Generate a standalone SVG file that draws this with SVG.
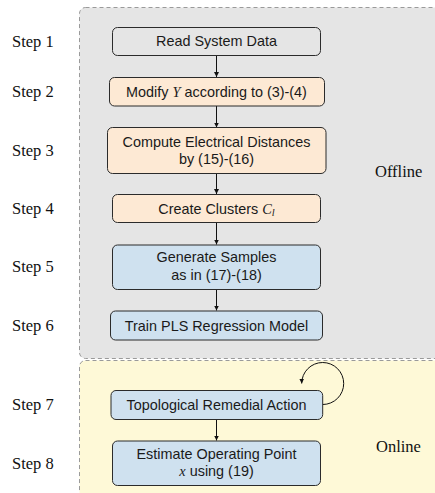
<svg xmlns="http://www.w3.org/2000/svg" width="435" height="493" viewBox="0 0 435 493">
<style>
.panel{stroke:#9a9a9a;stroke-width:1;stroke-dasharray:4 3}
.box{stroke:#2b2b2b;stroke-width:1}
.gray{fill:#e5e5e5}
.orange{fill:#fde9d4}
.blue{fill:#cfe1ef}
.t{font-family:"Liberation Sans",Arial,sans-serif;font-size:14.4px;fill:#1a1a1a;text-anchor:middle}
.m{font-family:"Liberation Serif","Times New Roman",serif;font-style:italic}
.s{font-family:"Liberation Serif","Times New Roman",serif;font-size:16.5px;fill:#111}
.c{stroke:#111;stroke-width:1;fill:none}
</style>
<defs>
<marker id="ah" viewBox="0 0 8 8" refX="8" refY="4" markerWidth="5" markerHeight="5" orient="auto" markerUnits="userSpaceOnUse">
<path d="M0,0 L8,4 L0,8 Z" fill="#111"/>
</marker>
</defs>
<rect width="435" height="493" fill="#ffffff"/>
<g id="offline-panel">
<rect class="panel" x="79.5" y="7.5" width="370" height="351" rx="6" fill="#e5e5e5"/>
<text class="s" x="375" y="176.5">Offline</text>
</g>
<g id="online-panel">
<rect class="panel" x="79.5" y="360.5" width="370" height="150" rx="6" fill="#fef9d7"/>
<text class="s" x="376" y="451.5">Online</text>
</g>
<g id="steps">
<text class="s" x="12" y="46.5">Step 1</text>
<text class="s" x="12" y="96.5">Step 2</text>
<text class="s" x="12" y="155.5">Step 3</text>
<text class="s" x="12" y="213.5">Step 4</text>
<text class="s" x="12" y="272">Step 5</text>
<text class="s" x="12" y="330.5">Step 6</text>
<text class="s" x="12" y="410">Step 7</text>
<text class="s" x="12" y="468.5">Step 8</text>
</g>
<g id="connectors">
<line class="c" x1="216.5" y1="55.5" x2="216.5" y2="77" marker-end="url(#ah)"/>
<line class="c" x1="216.5" y1="106" x2="216.5" y2="127.5" marker-end="url(#ah)"/>
<line class="c" x1="216.5" y1="173.5" x2="216.5" y2="194" marker-end="url(#ah)"/>
<line class="c" x1="216.5" y1="222.5" x2="216.5" y2="244.5" marker-end="url(#ah)"/>
<line class="c" x1="216.5" y1="289.5" x2="216.5" y2="310.5" marker-end="url(#ah)"/>
<line class="c" x1="216.5" y1="419.5" x2="216.5" y2="440.5" marker-end="url(#ah)"/>
<path class="c" d="M322.7,404.5 A21,21 0 1 0 301.7,383.5" marker-end="url(#ah)"/>
</g>
<g id="n1">
<rect class="box gray" x="112.5" y="27.5" width="208" height="28" rx="5"/>
<text class="t" x="216.5" y="46.3">Read System Data</text>
</g>
<g id="n2">
<rect class="box orange" x="109.5" y="77.5" width="215" height="28.5" rx="5"/>
<text class="t" x="216.5" y="96.7">Modify <tspan class="m">Y</tspan> according to (3)-(4)</text>
</g>
<g id="n3">
<rect class="box orange" x="107.5" y="127.5" width="218.5" height="46" rx="5"/>
<text class="t" x="216.5" y="146.7">Compute Electrical Distances</text>
<text class="t" x="216.5" y="164">by (15)-(16)</text>
</g>
<g id="n4">
<rect class="box orange" x="112.5" y="194.5" width="208" height="28" rx="5"/>
<text class="t" x="216.5" y="213.5">Create Clusters <tspan class="m">C</tspan><tspan class="m" font-size="10.5" dy="2.5">l</tspan></text>
</g>
<g id="n5">
<rect class="box blue" x="112.5" y="245" width="208" height="44.5" rx="5"/>
<text class="t" x="216.5" y="262">Generate Samples</text>
<text class="t" x="216.5" y="279.5">as in (17)-(18)</text>
</g>
<g id="n6">
<rect class="box blue" x="110.5" y="311" width="212" height="29" rx="5"/>
<text class="t" x="216.5" y="330.5">Train PLS Regression Model</text>
</g>
<g id="n7">
<rect class="box blue" x="111" y="390.5" width="211.7" height="29" rx="5"/>
<text class="t" x="216.5" y="410">Topological Remedial Action</text>
</g>
<g id="n8">
<rect class="box blue" x="112.5" y="441" width="208" height="44.5" rx="5"/>
<text class="t" x="216.5" y="458.5">Estimate Operating Point</text>
<text class="t" x="216.5" y="476"><tspan class="m">x</tspan> using (19)</text>
</g>
</svg>
